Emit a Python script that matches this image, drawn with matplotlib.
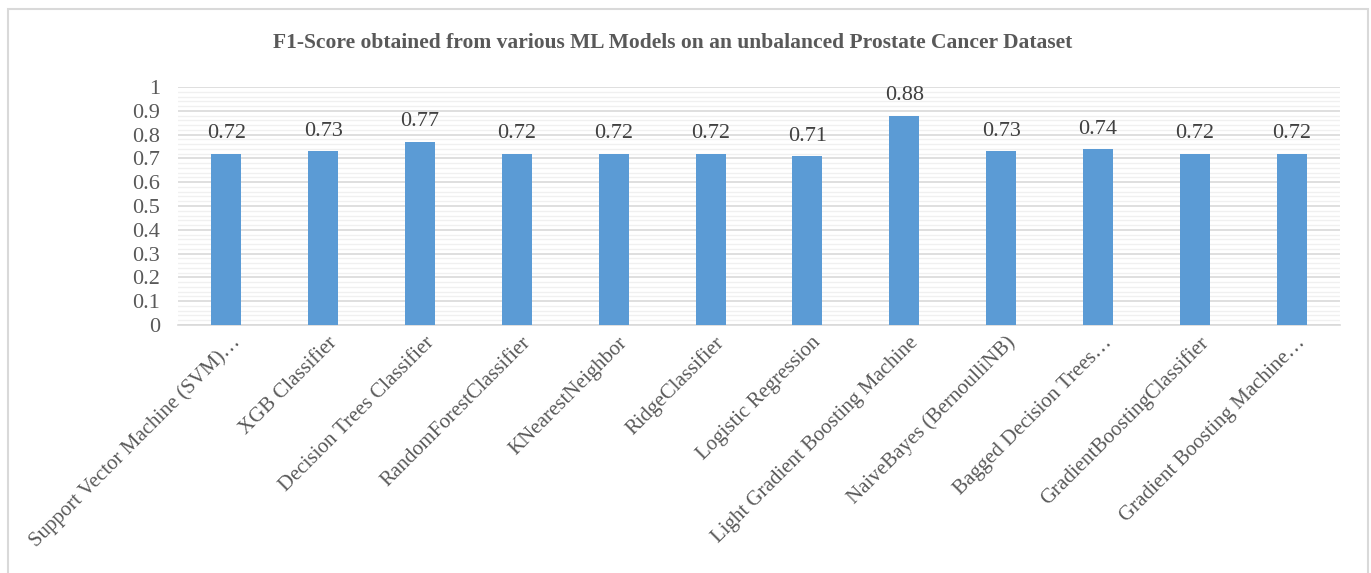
import matplotlib
matplotlib.use("Agg")
import matplotlib.pyplot as plt
from matplotlib.patches import Rectangle
from matplotlib.ticker import MultipleLocator
from matplotlib.transforms import ScaledTranslation

models = [
    "Support Vector Machine (SVM)…",
    "XGB Classifier",
    "Decision Trees Classifier",
    "RandomForestClassifier",
    "KNearestNeighbor",
    "RidgeClassifier",
    "Logistic Regression",
    "Light Gradient Boosting Machine",
    "NaiveBayes (BernoulliNB)",
    "Bagged Decision Trees…",
    "GradientBoostingClassifier",
    "Gradient Boosting Machine…",
]
f1_scores = [0.72, 0.73, 0.77, 0.72, 0.72, 0.72, 0.71, 0.88, 0.73, 0.74, 0.72, 0.72]
y_ticks = [0, 0.1, 0.2, 0.3, 0.4, 0.5, 0.6, 0.7, 0.8, 0.9, 1]
y_tick_labels = ["0", "0.1", "0.2", "0.3", "0.4", "0.5", "0.6", "0.7", "0.8", "0.9", "1"]
title = "F1-Score obtained from various ML Models on an unbalanced Prostate Cancer Dataset"

W, H = 1371, 573
plt.rcParams["font.family"] = ["Liberation Serif", "DejaVu Serif"]
fig = plt.figure(figsize=(W / 100, H / 100), dpi=100)

# chart frame
fig.patches.append(Rectangle((8 / W, -0.05), 1360 / W, 1.05 - 9 / H,
                             transform=fig.transFigure, fill=False,
                             edgecolor="#d9d9d9", linewidth=1.5))

ax = fig.add_axes([178 / W, 1 - 325 / H, (1340 - 178) / W, (325 - 87) / H])
x = list(range(len(models)))
bars = ax.bar(x, f1_scores, width=0.31, color="#5b9bd5", zorder=3)

for xi, v in zip(x, f1_scores):
    ax.annotate(f"{v:.2f}", (xi, v), xytext=(0, 11), textcoords="offset points",
                ha="center", va="baseline", fontsize=16, color="#404040")

ax.set_xlim(-0.5, len(models) - 0.5)
ax.set_ylim(0, 1)
ax.set_yticks(y_ticks)
ax.set_yticklabels(y_tick_labels)
ax.yaxis.set_minor_locator(MultipleLocator(0.02))
ax.grid(axis="y", which="major", color="#d9d9d9", linewidth=1.2, zorder=1)
ax.grid(axis="y", which="minor", color="#f0f0f0", linewidth=1.0, zorder=0)
ax.tick_params(axis="y", which="both", length=0, pad=13, labelsize=16, labelcolor="#595959")
ax.tick_params(axis="x", length=0, pad=10)
ax.set_xticks(x)
ax.set_xticklabels(models, rotation=45, ha="right", va="center",
                   rotation_mode="anchor", fontsize=15, color="#595959")
shift = ScaledTranslation(11 / 100, -1 / 100, fig.dpi_scale_trans)
for lbl in ax.get_xticklabels():
    lbl.set_transform(lbl.get_transform() + shift)
for s in ["top", "right", "left"]:
    ax.spines[s].set_visible(False)
ax.spines["bottom"].set_color("#d9d9d9")
ax.spines["bottom"].set_linewidth(1.2)

fig.text(673 / W, 1 - 43 / H, title, ha="center", va="center",
         fontsize=15.5, fontweight="bold", color="#595959")

fig.savefig("out.png", dpi=100)
